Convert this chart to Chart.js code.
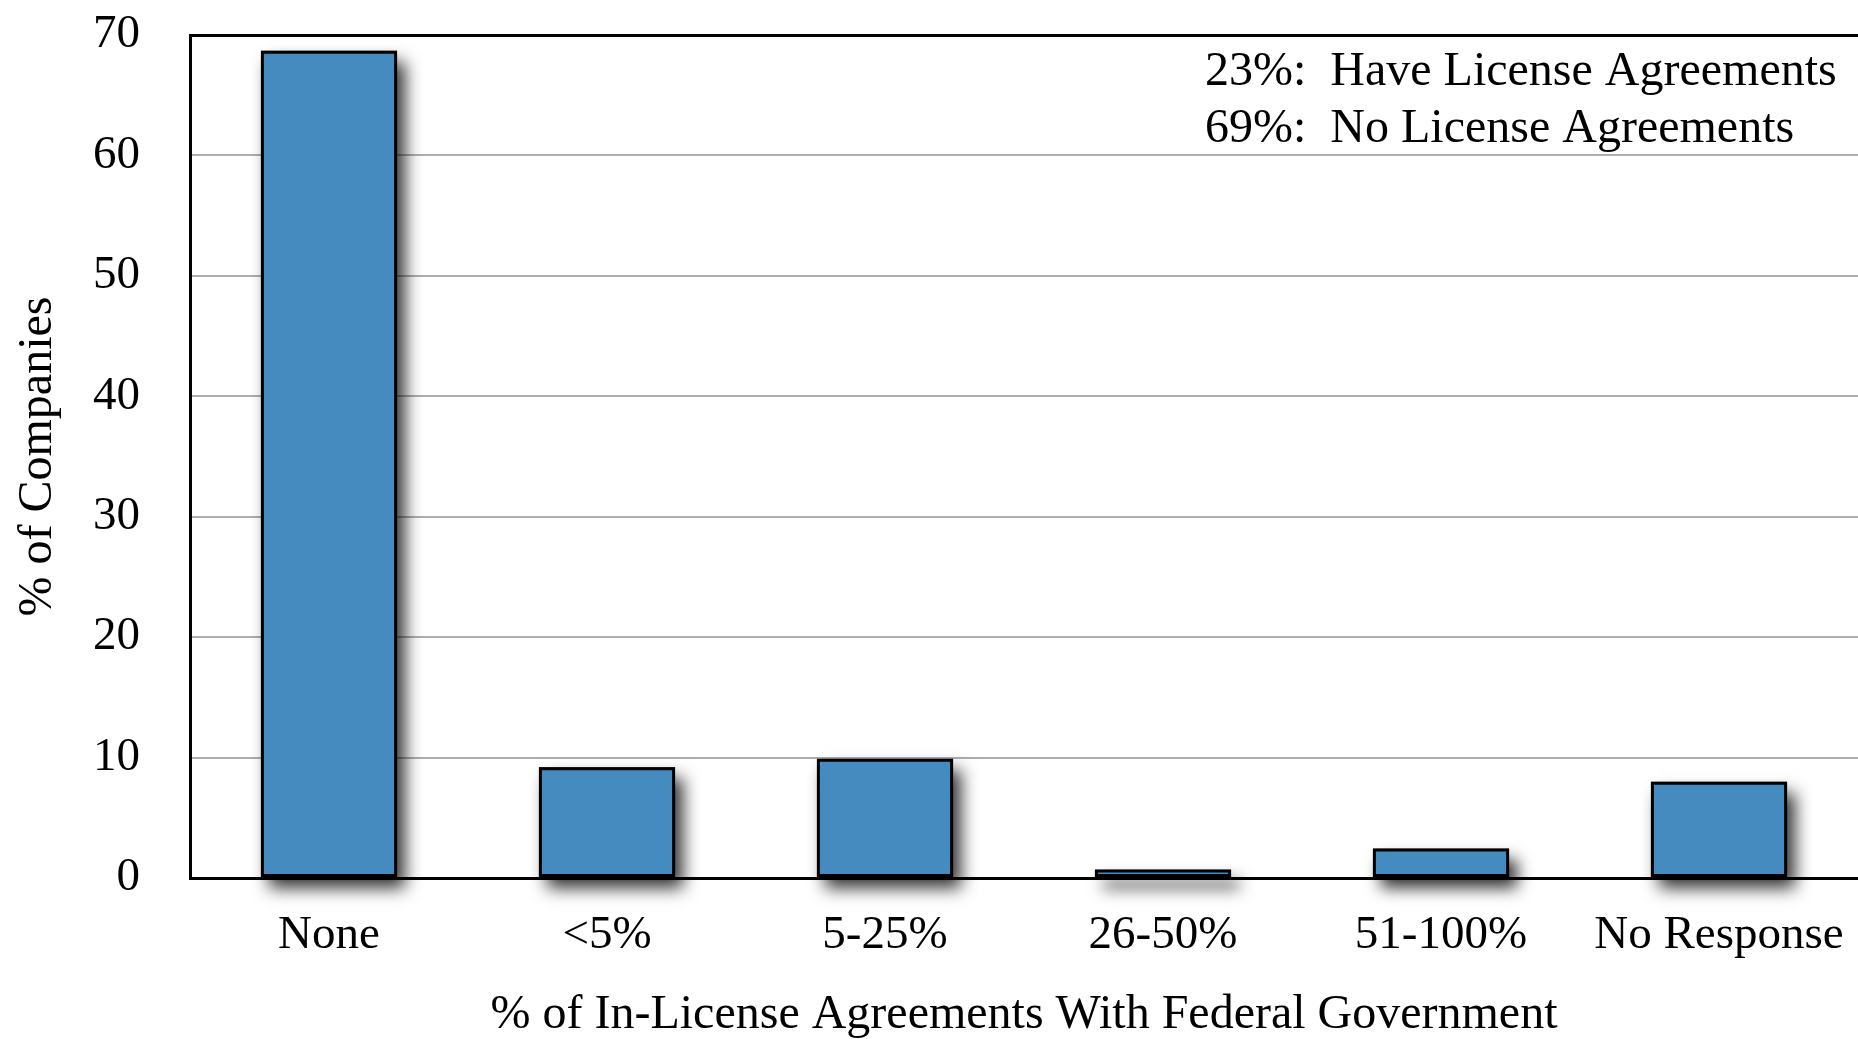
<!DOCTYPE html>
<html>
<head>
<meta charset="utf-8">
<script src="https://cdn.jsdelivr.net/npm/chart.js@4/dist/chart.umd.min.js"></script>
<style>
  body { margin: 0; background: #fff; }
  #wrap { width: 1858px; height: 1039px; }
</style>
</head>
<body>
<div id="wrap"><canvas id="myChart"></canvas></div>
<script>
// data
const categories = ['None', '<5%', '5-25%', '26-50%', '51-100%', 'No Response'];
const companyShare = [68.7, 9.2, 9.9, 0.7, 2.45, 8.0];
const yTicks = [0, 10, 20, 30, 40, 50, 60, 70];
const notes = ['23%:  Have License Agreements', '69%:  No License Agreements'];

const serif = '"Liberation Serif", "Times New Roman", serif';

// drop shadow behind the bars (bar elements clip themselves, so paint it first)
const barShadow = {
    id: 'barShadow',
    beforeDatasetsDraw(chart) {
        const ctx = chart.ctx;
        const meta = chart.getDatasetMeta(0);
        ctx.save();
        ctx.fillStyle = '#000';
        ctx.shadowColor = 'rgba(0, 0, 0, 0.8)';
        ctx.shadowBlur = 16;
        ctx.shadowOffsetX = 8;
        ctx.shadowOffsetY = 11;
        meta.data.forEach(function(bar) {
            const p = bar.getProps(['x', 'y', 'base', 'width'], true);
            const top = Math.min(p.y, p.base);
            ctx.fillRect(p.x - p.width / 2, top, p.width, Math.abs(p.base - p.y));
        });
        ctx.restore();
    }
};

// the two note lines in the top right corner
const noteText = {
    id: 'noteText',
    afterDraw(chart) {
        const ctx = chart.ctx;
        const area = chart.chartArea;
        ctx.save();
        ctx.font = '48px ' + serif;
        ctx.fillStyle = '#000';
        ctx.textAlign = 'left';
        ctx.textBaseline = 'middle';
        notes.forEach(function(line, i) {
            ctx.fillText(line, area.right - 653, area.top + 37 + i * 57);
        });
        ctx.restore();
    }
};

const config = {
    type: 'bar',
    data: {
        labels: categories,
        datasets: [{
            data: companyShare,
            backgroundColor: '#468bc0',
            borderColor: '#000',
            borderWidth: 3,
            borderSkipped: false,
            categoryPercentage: 1,
            barPercentage: 0.49
        }]
    },
    options: {
        responsive: true,
        maintainAspectRatio: false,
        animation: false,
        layout: { padding: { top: 35, left: 0, right: 0, bottom: 0 } },
        plugins: {
            legend: { display: false },
            tooltip: { enabled: false }
        },
        scales: {
            x: {
                afterFit(scale) { scale.height = 161; },
                grid: { display: false, drawTicks: true, tickLength: 20 },
                border: { display: true, color: '#000', width: 3 },
                ticks: {
                    color: '#000',
                    padding: 9,
                    maxRotation: 0,
                    font: { family: serif, size: 47 }
                },
                title: {
                    display: true,
                    text: '% of In-License Agreements With Federal Government',
                    color: '#000',
                    font: { family: serif, size: 48, lineHeight: 1 },
                    padding: { top: 0, bottom: 0 }
                }
            },
            y: {
                min: 0,
                max: 70,
                afterBuildTicks(scale) {
                    scale.ticks = yTicks.map(v => ({ value: v }));
                },
                afterFit(scale) { scale.width = 190; },
                grid: {
                    drawTicks: true,
                    tickLength: 50,
                    tickColor: 'rgba(0, 0, 0, 0)',
                    color: ctx => ctx.tick && ctx.tick.value === 70 ? '#000' : '#adadad',
                    lineWidth: ctx => ctx.tick && ctx.tick.value === 70 ? 3 : 2
                },
                border: { display: true, color: '#000', width: 3 },
                ticks: {
                    color: '#000',
                    padding: 0,
                    font: { family: serif, size: 47 }
                },
                title: {
                    display: true,
                    text: '% of Companies',
                    color: '#000',
                    font: { family: serif, size: 48, lineHeight: 1.2 },
                    padding: { top: 10, bottom: 0 }
                }
            }
        }
    },
    plugins: [barShadow, noteText]
};

const ctx = document.getElementById('myChart').getContext('2d');
const myChart = new Chart(ctx, config);
</script>
</body>
</html>
